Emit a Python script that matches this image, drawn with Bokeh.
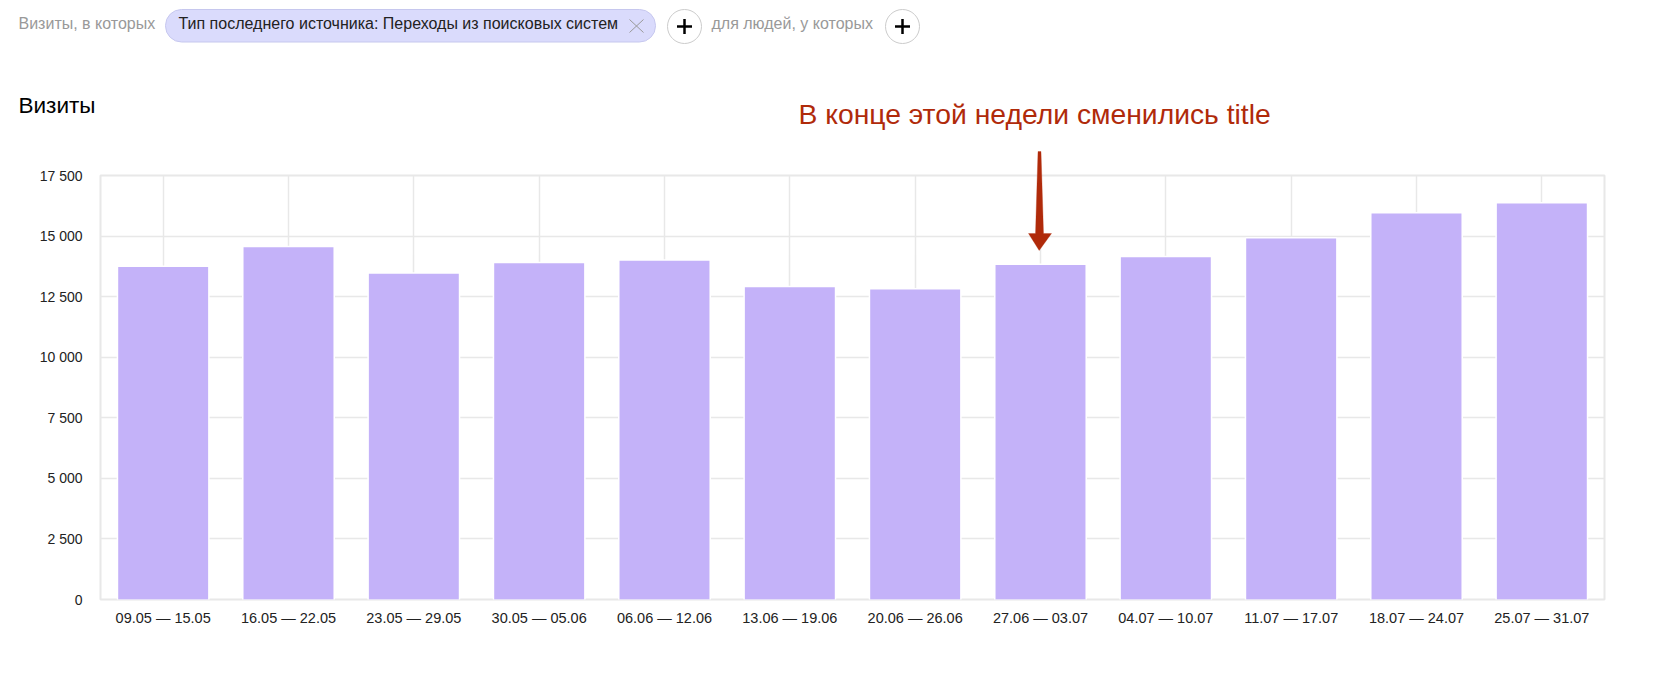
from bokeh.embed import file_html
from bokeh.layouts import column
from bokeh.models import Arrow, BoxAnnotation, ColumnDataSource, FixedTicker, Label, PolyAnnotation
from bokeh.plotting import figure
from bokeh.resources import INLINE

weeks = ["09.05 — 15.05", "16.05 — 22.05", "23.05 — 29.05", "30.05 — 05.06",
         "06.06 — 12.06", "13.06 — 19.06", "20.06 — 26.06", "27.06 — 03.07",
         "04.07 — 10.07", "11.07 — 17.07", "18.07 — 24.07", "25.07 — 31.07"]
visits = [13720, 14540, 13450, 13880, 13980, 12890, 12790, 13810, 14130, 14900, 15930, 16340]
y_ticks = [0, 2500, 5000, 7500, 10000, 12500, 15000, 17500]
y_tick_labels = ["0", "2 500", "5 000", "7 500", "10 000", "12 500", "15 000", "17 500"]

FONT = "Liberation Sans"
GRID = "#e8e8e8"
W, H = 1645, 659

# plot frame in page pixels
LEFT, RIGHT, TOP, BOTTOM = 100, 1604, 175, 599

p = figure(x_range=weeks, y_range=(0, 17500), width=W, height=H,
           output_backend="svg", toolbar_location=None, margin=(0, 0, -H, 0),
           min_border_left=LEFT, min_border_right=W - RIGHT,
           min_border_top=TOP, min_border_bottom=H - BOTTOM)
p.x_range.range_padding = 0
p.frame_align = False

source = ColumnDataSource(data=dict(week=weeks, visits=visits))
p.vbar(x="week", top="visits", width=0.7175, source=source,
       fill_color="#c4b2f9", line_color="#ffffff", line_width=3)
p.vbar(x="week", top="visits", width=0.7175, source=source,
       fill_color="#c4b2f9", line_color=None)

p.outline_line_color = GRID
p.outline_line_width = 2
p.grid.grid_line_color = GRID
p.grid.grid_line_width = 1.5
p.yaxis.ticker = FixedTicker(ticks=y_ticks)
p.yaxis.major_label_overrides = dict(zip(y_ticks, y_tick_labels))

for ax in (p.xaxis[0], p.yaxis[0]):
    ax.axis_line_color = None
    ax.major_tick_line_color = None
    ax.minor_tick_line_color = None
    ax.major_label_text_font = FONT
    ax.major_label_text_color = "#222222"
p.xaxis.major_label_text_font_size = "14.5px"
p.yaxis.major_label_text_font_size = "14px"
p.xaxis.major_label_standoff = 4
p.yaxis.major_label_standoff = 12

# see-through figure over the chart, its frame is the whole canvas,
# annotations outside a frame get clipped
top = figure(x_range=(0, W), y_range=(0, H), width=W, height=H,
             output_backend="svg", toolbar_location=None, x_axis_location=None, y_axis_location=None,
             min_border=0, background_fill_color=None, border_fill_color=None, outline_line_color=None)
top.grid.visible = False
top.frame_align = False


def sy(y):
    return H - y


def text(x, y, s, size, color):
    top.add_layout(Label(x=x, y=sy(y), x_units="screen", y_units="screen", text=s,
                         text_font=FONT, text_font_size=size, text_color=color))


def line(x0, y0, x1, y1, color, width):
    top.add_layout(Arrow(end=None, x_start=x0, y_start=sy(y0), x_end=x1, y_end=sy(y1),
                         start_units="screen", end_units="screen",
                         line_color=color, line_width=width))


def pill(x0, x1, y0, y1, fill, border):
    top.add_layout(BoxAnnotation(left=x0, right=x1, top=sy(y0), bottom=sy(y1),
                                 left_units="screen", right_units="screen",
                                 top_units="screen", bottom_units="screen",
                                 fill_color=fill, fill_alpha=1, line_color=border, line_alpha=1,
                                 line_width=1, border_radius=int((y1 - y0) / 2)))


def plus(cx):
    pill(cx - 17, cx + 17, 9, 43, "#ffffff", "#cccccc")
    line(cx - 7.5, 26, cx + 7.5, 26, "#000000", 2.5)
    line(cx, 18.5, cx, 33.5, "#000000", 2.5)


# filter row above the chart
text(18, 31, "Визиты, в которых", "16px", "#999999")
pill(165, 655, 9, 41.5, "#dadbfc", "#c6c7ee")
text(178, 31, "Тип последнего источника: Переходы из поисковых систем", "16px", "#222222")
line(629, 19, 643, 32, "#9a9a9a", 1)
line(629, 32, 643, 19, "#9a9a9a", 1)
plus(684)
text(711, 31, "для людей, у которых", "16px", "#999999")
plus(902)

text(18, 117, "Визиты", "22.5px", "#000000")

# hand drawn note with its arrow
text(798, 129, "В конце этой недели сменились title", "28.3px", "#b02a0a")
arrow_x = [1037.5, 1040.5, 1043, 1051, 1038.7, 1028, 1035]
arrow_y = [151, 151, 233, 233, 250, 233, 233]
top.add_layout(PolyAnnotation(xs=arrow_x, ys=[sy(y) for y in arrow_y],
                              xs_units="screen", ys_units="screen",
                              fill_color="#b02a0a", fill_alpha=1, line_color="#b02a0a", line_width=1))

open("out.html", "w").write(file_html(column(p, top), INLINE))
